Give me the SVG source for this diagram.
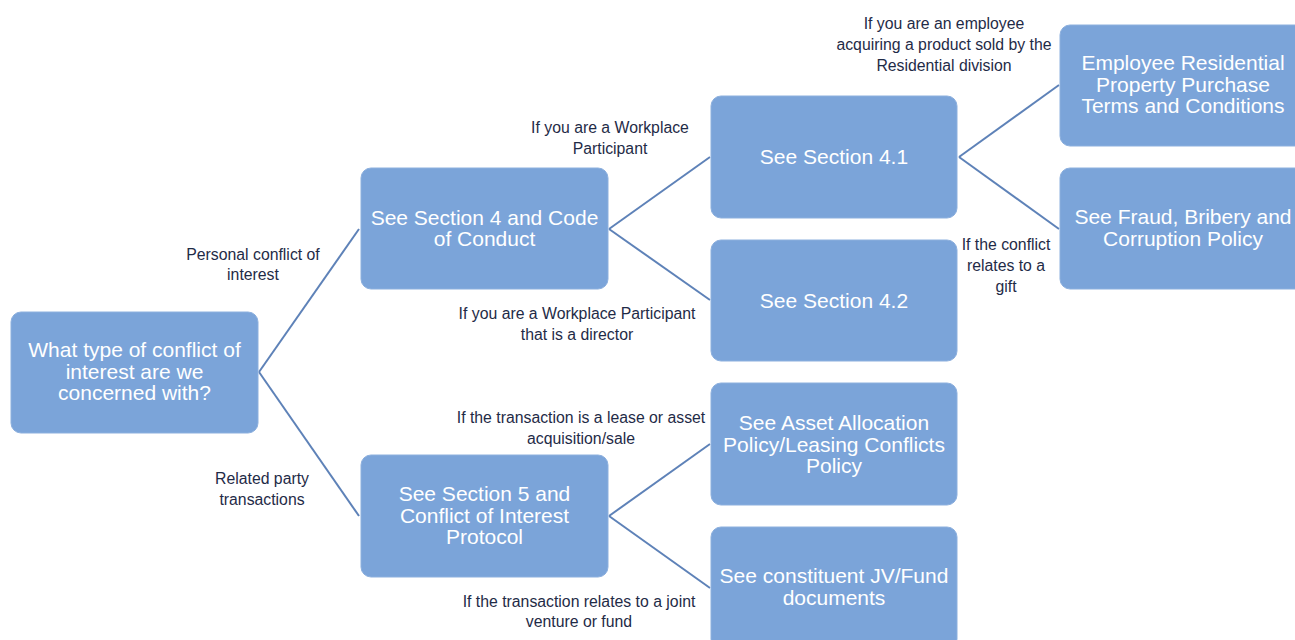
<svg xmlns="http://www.w3.org/2000/svg" width="1295" height="640" viewBox="0 0 1295 640">
<style>
.box{fill:#7BA4D9;stroke:#8DB0DE;stroke-width:1}
.bt{font-family:"Liberation Sans",Arial,sans-serif;font-size:21px;fill:#FFFFFF;text-anchor:middle}
.lb{font-family:"Liberation Sans",Arial,sans-serif;font-size:15.8px;fill:#1F2B47;text-anchor:middle}
.cn{stroke:#5E82B8;stroke-width:2;fill:none}
</style>
<rect width="1295" height="640" fill="#FFFFFF"/>
<g id="connectors">
<line class="cn" x1="259" y1="372" x2="359" y2="229"/>
<line class="cn" x1="259" y1="372" x2="359" y2="516"/>
<line class="cn" x1="609" y1="229" x2="710" y2="157"/>
<line class="cn" x1="609" y1="229" x2="710" y2="300"/>
<line class="cn" x1="959" y1="157" x2="1059" y2="85"/>
<line class="cn" x1="959" y1="157" x2="1059" y2="229"/>
<line class="cn" x1="609" y1="516" x2="710" y2="444"/>
<line class="cn" x1="609" y1="516" x2="710" y2="588"/>
</g>
<g id="labels">
<text class="lb"><tspan x="944" y="29">If you are an employee</tspan><tspan x="944" y="50">acquiring a product sold by the</tspan><tspan x="944" y="71">Residential division</tspan></text>
<text class="lb"><tspan x="610" y="133">If you are a Workplace</tspan><tspan x="610" y="154">Participant</tspan></text>
<text class="lb"><tspan x="253" y="260">Personal conflict of</tspan><tspan x="253" y="280">interest</tspan></text>
<text class="lb"><tspan x="1006" y="250">If the conflict</tspan><tspan x="1006" y="271">relates to a</tspan><tspan x="1006" y="292">gift</tspan></text>
<text class="lb"><tspan x="577" y="319">If you are a Workplace Participant</tspan><tspan x="577" y="340">that is a director</tspan></text>
<text class="lb"><tspan x="581" y="423">If the transaction is a lease or asset</tspan><tspan x="581" y="444">acquisition/sale</tspan></text>
<text class="lb"><tspan x="262" y="484">Related party</tspan><tspan x="262" y="505">transactions</tspan></text>
<text class="lb"><tspan x="579" y="607">If the transaction relates to a joint</tspan><tspan x="579" y="627">venture or fund</tspan></text>
</g>
<g id="node-question">
<rect class="box" x="11" y="312" width="247" height="121" rx="10"/>
<text class="bt"><tspan x="134.5" y="357">What type of conflict of</tspan><tspan x="134.5" y="378.5">interest are we</tspan><tspan x="134.5" y="400">concerned with?</tspan></text>
</g>
<g id="node-section4">
<rect class="box" x="361" y="168" width="247" height="121" rx="10"/>
<text class="bt"><tspan x="484.5" y="224.5">See Section 4 and Code</tspan><tspan x="484.5" y="246">of Conduct</tspan></text>
</g>
<g id="node-section5">
<rect class="box" x="361" y="455" width="247" height="122" rx="10"/>
<text class="bt"><tspan x="484.5" y="501">See Section 5 and</tspan><tspan x="484.5" y="522.5">Conflict of Interest</tspan><tspan x="484.5" y="544">Protocol</tspan></text>
</g>
<g id="node-section41">
<rect class="box" x="711" y="96" width="246" height="122" rx="10"/>
<text class="bt" x="834" y="164">See Section 4.1</text>
</g>
<g id="node-section42">
<rect class="box" x="711" y="240" width="246" height="121" rx="10"/>
<text class="bt" x="834" y="307.5">See Section 4.2</text>
</g>
<g id="node-asset">
<rect class="box" x="711" y="383" width="246" height="122" rx="10"/>
<text class="bt"><tspan x="834" y="430">See Asset Allocation</tspan><tspan x="834" y="451.5">Policy/Leasing Conflicts</tspan><tspan x="834" y="473">Policy</tspan></text>
</g>
<g id="node-jv">
<rect class="box" x="711" y="527" width="246" height="122" rx="10"/>
<text class="bt"><tspan x="834" y="583">See constituent JV/Fund</tspan><tspan x="834" y="605">documents</tspan></text>
</g>
<g id="node-employee">
<rect class="box" x="1060" y="25" width="246" height="121" rx="10"/>
<text class="bt"><tspan x="1183" y="70">Employee Residential</tspan><tspan x="1183" y="91.5">Property Purchase</tspan><tspan x="1183" y="113">Terms and Conditions</tspan></text>
</g>
<g id="node-fraud">
<rect class="box" x="1060" y="168" width="246" height="121" rx="10"/>
<text class="bt"><tspan x="1183" y="224">See Fraud, Bribery and</tspan><tspan x="1183" y="246">Corruption Policy</tspan></text>
</g>
</svg>
